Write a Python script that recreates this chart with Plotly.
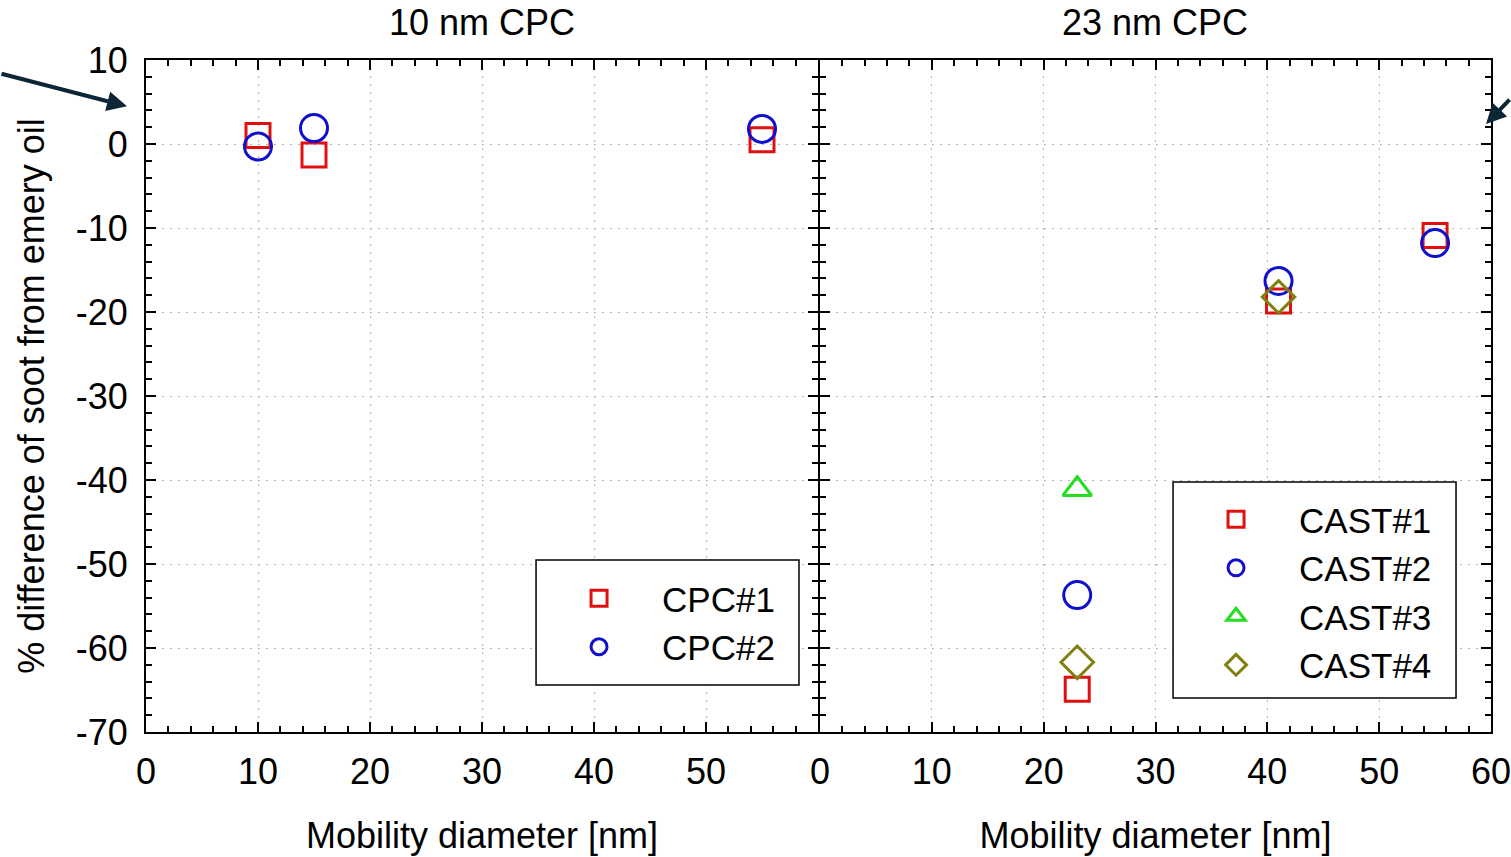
import plotly.graph_objects as go
from plotly.subplots import make_subplots

# ---- data -------------------------------------------------------------
# 10 nm CPC panel
cpc1_x = [10, 15, 55]
cpc1_y = [1.0, -1.3, 0.5]
cpc2_x = [10, 15, 55]
cpc2_y = [-0.3, 1.9, 1.8]

# 23 nm CPC panel
cast1_x = [23, 41, 55]
cast1_y = [-64.9, -18.7, -10.9]
cast2_x = [23, 41, 55]
cast2_y = [-53.7, -16.3, -11.8]
cast3_x = [23]
cast3_y = [-41.1]
cast4_x = [23, 41]
cast4_y = [-61.7, -18.2]

panel_titles = ["10 nm CPC", "23 nm CPC"]
left_xticks = [0, 10, 20, 30, 40, 50]
right_xticks = [0, 10, 20, 30, 40, 50, 60]
yticks = [10, 0, -10, -20, -30, -40, -50, -60, -70]
ytick_text = ["10", "0", "-10", "-20", "-30", "-40", "-50", "-60", "-70"]

# ---- style ------------------------------------------------------------
FONT = "Liberation Sans, Arial, sans-serif"
FS = 36
RED = "#e01010"
BLUE = "#1010cc"
GREEN = "#22dd22"
OLIVE = "#808010"
LW = 3

fig = make_subplots(rows=1, cols=2, shared_yaxes=True, horizontal_spacing=0,
                    subplot_titles=panel_titles)


def marker(symbol, color, size):
    return dict(symbol=symbol, size=size, color=color,
                line=dict(color=color, width=LW))


fig.add_trace(go.Scatter(x=cpc1_x, y=cpc1_y, mode="markers", name="CPC#1",
                         marker=marker("square-open", RED, 24), legend="legend"),
              row=1, col=1)
fig.add_trace(go.Scatter(x=cpc2_x, y=cpc2_y, mode="markers", name="CPC#2",
                         marker=marker("circle-open", BLUE, 27), legend="legend"),
              row=1, col=1)
fig.add_trace(go.Scatter(x=cast1_x, y=cast1_y, mode="markers", name="CAST#1",
                         marker=marker("square-open", RED, 24), legend="legend2"),
              row=1, col=2)
fig.add_trace(go.Scatter(x=cast2_x, y=cast2_y, mode="markers", name="CAST#2",
                         marker=marker("circle-open", BLUE, 27), legend="legend2"),
              row=1, col=2)
fig.add_trace(go.Scatter(x=cast3_x, y=cast3_y, mode="markers", name="CAST#3",
                         marker=marker("triangle-up-open", GREEN, 25), legend="legend2"),
              row=1, col=2)
fig.add_trace(go.Scatter(x=cast4_x, y=cast4_y, mode="markers", name="CAST#4",
                         marker=marker("diamond-open", OLIVE, 25), legend="legend2"),
              row=1, col=2)

axis_common = dict(
    showline=True, linecolor="black", linewidth=2, mirror="allticks",
    ticks="inside", ticklen=10, tickwidth=2, tickcolor="black",
    showgrid=True, gridcolor="#b0b0b0", gridwidth=1, griddash="2px,6px",
    zeroline=False, automargin=False, ticklabeloverflow="allow",
    tickfont=dict(family=FONT, size=FS, color="black"),
    minor=dict(ticks="inside", ticklen=6, tickwidth=1.5, tickcolor="black",
               dtick=2, showgrid=False),
)

fig.update_xaxes(axis_common)
fig.update_yaxes(axis_common)

# a 2 px gap lets the two frame lines of the shared edge coincide
fig.update_xaxes(domain=[0, 672 / 1345], row=1, col=1)
fig.update_xaxes(domain=[674 / 1345, 1], row=1, col=2)

xtitle = dict(text="Mobility diameter [nm]", font=dict(family=FONT, size=FS, color="black"),
              standoff=32)
fig.update_xaxes(range=[0, 60], tickvals=left_xticks, ticklabelstandoff=7,
                 title=xtitle, row=1, col=1)
fig.update_xaxes(range=[0, 60], tickvals=right_xticks, ticklabelstandoff=7,
                 title=xtitle, row=1, col=2)
fig.update_yaxes(range=[-70, 10], tickvals=yticks, ticktext=ytick_text,
                 ticklabelstandoff=9,
                 title=dict(text="% difference of soot from emery oil",
                            font=dict(family=FONT, size=FS, color="black"),
                            standoff=20),
                 row=1, col=1)
fig.update_yaxes(range=[-70, 10], tickvals=yticks, showticklabels=False, row=1, col=2)

for ann in fig.layout.annotations:
    ann.font = dict(family=FONT, size=FS, color="black")
    ann.yshift = 15

# legends: native legends without border, framed by white boxes
legend_common = dict(
    bgcolor="rgba(0,0,0,0)", borderwidth=0,
    font=dict(family=FONT, size=35, color="black"),
    itemwidth=116, xanchor="left", yanchor="top", itemclick=False,
)
fig.update_layout(
    legend=dict(legend_common, x=0.29, y=0.2426),
    legend2=dict(legend_common, x=0.7636, y=0.360),
)
frame = dict(type="rect", xref="paper", yref="paper", layer="above",
             line=dict(color="black", width=1.5), fillcolor="white")
fig.add_shape(frame, x0=0.29, x1=0.4855, y0=0.0699, y1=0.256)
fig.add_shape(frame, x0=0.7636, x1=0.974, y0=0.0506, y1=0.372)

# pointer arrows at the top corners
ARROW = "#0d2636"
fig.add_annotation(x=-0.0141, y=0.931, xref="paper", yref="paper", text="",
                   showarrow=True, ax=-145, ay=-33, arrowhead=2, arrowsize=1,
                   arrowwidth=4, arrowcolor=ARROW)
fig.add_annotation(x=0.9963, y=0.9047, xref="paper", yref="paper", text="",
                   showarrow=True, ax=40, ay=-26, arrowhead=2, arrowsize=1,
                   arrowwidth=4, arrowcolor=ARROW)

fig.update_layout(
    width=1511, height=857,
    margin=dict(l=146, r=20, t=60, b=125, autoexpand=False),
    plot_bgcolor="white", paper_bgcolor="white",
    font=dict(family=FONT, color="black"),
    showlegend=True,
)

fig.write_html("out.html")
